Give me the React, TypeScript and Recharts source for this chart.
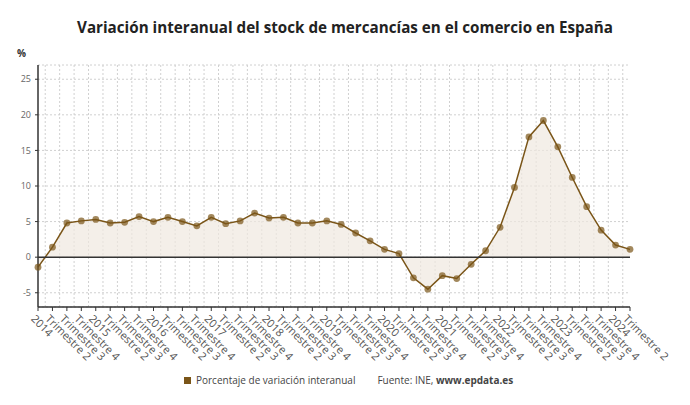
import { Area, AreaChart, CartesianGrid, ReferenceLine, XAxis, YAxis } from "recharts"

const periods = [
  "2014-T1", "2014-T2", "2014-T3", "2014-T4",
  "2015-T1", "2015-T2", "2015-T3", "2015-T4",
  "2016-T1", "2016-T2", "2016-T3", "2016-T4",
  "2017-T1", "2017-T2", "2017-T3", "2017-T4",
  "2018-T1", "2018-T2", "2018-T3", "2018-T4",
  "2019-T1", "2019-T2", "2019-T3", "2019-T4",
  "2020-T1", "2020-T2", "2020-T3", "2020-T4",
  "2021-T1", "2021-T2", "2021-T3", "2021-T4",
  "2022-T1", "2022-T2", "2022-T3", "2022-T4",
  "2023-T1", "2023-T2", "2023-T3", "2023-T4",
  "2024-T1", "2024-T2",
]

const tickLabels = [
  "2014", "Trimestre 2", "Trimestre 3", "Trimestre 4",
  "2015", "Trimestre 2", "Trimestre 3", "Trimestre 4",
  "2016", "Trimestre 2", "Trimestre 3", "Trimestre 4",
  "2017", "Trimestre 2", "Trimestre 3", "Trimestre 4",
  "2018", "Trimestre 2", "Trimestre 3", "Trimestre 4",
  "2019", "Trimestre 2", "Trimestre 3", "Trimestre 4",
  "2020", "Trimestre 2", "Trimestre 3", "Trimestre 4",
  "2021", "Trimestre 2", "Trimestre 3", "Trimestre 4",
  "2022", "Trimestre 2", "Trimestre 3", "Trimestre 4",
  "2023", "Trimestre 2", "Trimestre 3", "Trimestre 4",
  "2024", "Trimestre 2",
]

const variacion = [
  -1.4, 1.4, 4.8, 5.1, 5.3, 4.8, 4.9, 5.7, 5.0, 5.6, 5.0, 4.4,
  5.6, 4.7, 5.1, 6.2, 5.5, 5.6, 4.8, 4.8, 5.1, 4.6, 3.4, 2.3,
  1.1, 0.5, -2.9, -4.5, -2.6, -3.0, -1.0, 0.9, 4.2, 9.8, 16.9, 19.2,
  15.5, 11.2, 7.1, 3.8, 1.7, 1.1,
]

const yTicks = [-5, 0, 5, 10, 15, 20, 25]

const data = periods.map((p, i) => ({ periodo: p, label: tickLabels[i], valor: variacion[i] }))

const FONT = "'Open Sans', 'Noto Sans', sans-serif"
const BROWN = "#7a5518"

function XTick(props: any) {
  const { x, y, index } = props
  return (
    <g transform={`translate(${x - 2},${y + 1})`}>
      <text
        x={0}
        y={0}
        dy="0.72em"
        transform="rotate(45)"
        textAnchor="start"
        fontSize={11}
        fill="#555"
        fontFamily={FONT}
      >
        {tickLabels[index]}
      </text>
    </g>
  )
}

export default function App() {
  return (
    <div style={{ position: "absolute", left: 0, top: 0, width: 690, height: 405, background: "#fff", fontFamily: FONT }}>
      <div style={{ position: "absolute", top: 0, left: 0 }}>
        <AreaChart width={690} height={405} data={data} margin={{ top: 65, right: 60, bottom: 3, left: 8 }}>
          <CartesianGrid
            stroke="#d0d0d0"
            strokeDasharray="2 2"
            verticalCoordinatesGenerator={({ offset }: any) => {
              const step = offset.width / (periods.length - 1)
              return periods.slice(1).map((_, i) => offset.left + step * (i + 0.5))
            }}
          />
          <XAxis
            dataKey="periodo"
            scale="point"
            padding={{ left: 0, right: 0 }}
            interval={0}
            height={95}
            tick={<XTick />}
            tickSize={4}
            axisLine={{ stroke: "#333", strokeWidth: 1.5 }}
            tickLine={{ stroke: "#333" }}
          />
          <YAxis
            domain={[-7, 27]}
            ticks={yTicks}
            width={30}
            tickSize={3}
            tickMargin={4}
            tick={{ fontSize: 9, fill: "#666", fontFamily: FONT }}
            axisLine={{ stroke: "#333", strokeWidth: 1.5 }}
            tickLine={{ stroke: "#333" }}
          />
          <ReferenceLine y={0} stroke="#333" strokeWidth={1.5} />
          <Area
            type="linear"
            dataKey="valor"
            baseValue={0}
            stroke={BROWN}
            strokeWidth={1.5}
            fill="#efe8df"
            fillOpacity={0.7}
            dot={{ r: 3.4, fill: BROWN, stroke: BROWN, strokeWidth: 0 }}
            activeDot={false}
            isAnimationActive={false}
          />
        </AreaChart>
      </div>

      <div
        style={{
          position: "absolute",
          top: 17,
          left: 0,
          width: 690,
          textAlign: "center",
          fontSize: 15.2,
          fontWeight: 700,
          color: "#222",
        }}
      >
        Variación interanual del stock de mercancías en el comercio en España
      </div>
      <div style={{ position: "absolute", top: 46, left: 17, fontSize: 10, fontWeight: 700, color: "#333" }}>%</div>

      <div
        style={{
          position: "absolute",
          top: 373,
          left: 184,
          display: "flex",
          alignItems: "center",
          fontSize: 10,
          color: "#444",
          whiteSpace: "nowrap",
        }}
      >
        <span style={{ display: "inline-block", width: 7, height: 7, background: BROWN, marginRight: 5 }} />
        <span>Porcentaje de variación interanual</span>
        <span style={{ marginLeft: 22 }}>
          Fuente: INE, <b>www.epdata.es</b>
        </span>
      </div>
    </div>
  )
}
